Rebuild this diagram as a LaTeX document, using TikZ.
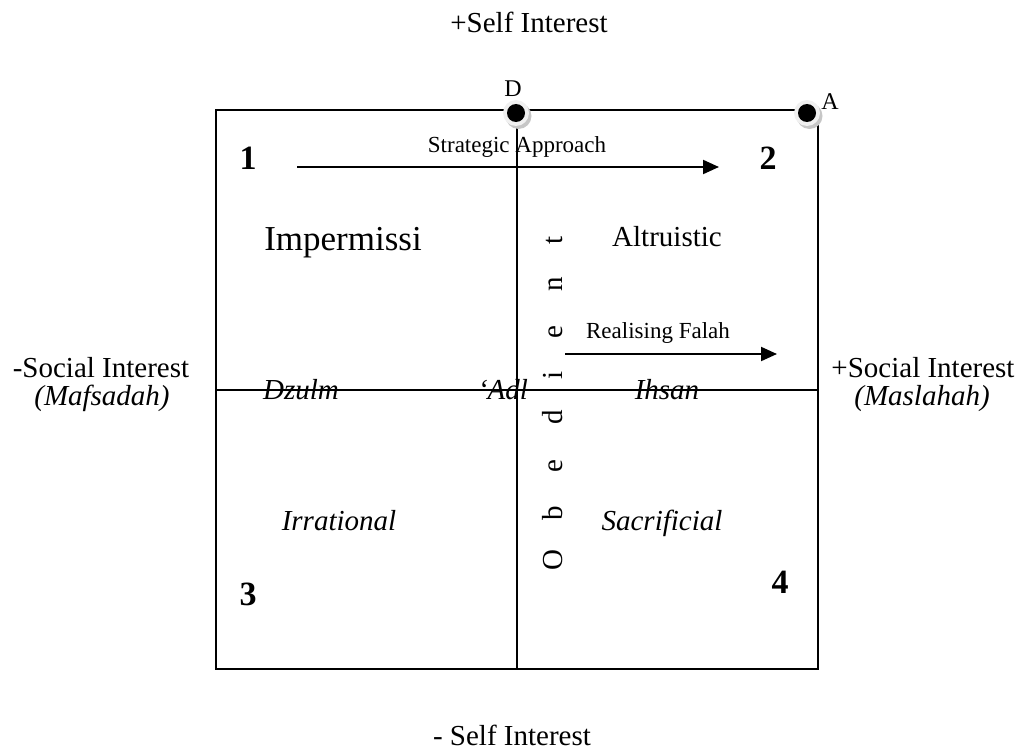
\documentclass[tikz,border=0pt]{standalone}
\usepackage{fontspec}
\setmainfont{Liberation Serif}
\usetikzlibrary{arrows.meta}
\begin{document}
\begin{tikzpicture}[x=1pt,y=-1pt,
  lbl/.style={anchor=base, inner sep=0pt, font=\fontsize{29}{34}\selectfont},
  ilbl/.style={anchor=base, inner sep=0pt, font=\fontsize{29}{34}\selectfont\itshape},
  smalllbl/.style={anchor=base, inner sep=0pt, font=\fontsize{23}{27}\selectfont},
  biglbl/.style={anchor=base, inner sep=0pt, font=\fontsize{35}{40}\selectfont},
  ptlbl/.style={anchor=base, inner sep=0pt, font=\fontsize{24}{28}\selectfont},
  num/.style={inner sep=0pt, font=\fontsize{34}{40}\selectfont\bfseries},
  letter/.style={anchor=base, inner sep=0pt, rotate=90, font=\fontsize{29}{34}\selectfont},
  frame/.style={line width=1.6pt},
  arr/.style={line width=2pt, -{Triangle[length=16pt,width=14pt]}},
  halo/.style={fill=gray!12},
  haloshadow/.style={fill=gray!45},
  dotnode/.style={circle, fill=black, minimum size=18pt, inner sep=0pt},
]
\useasboundingbox (0,0) rectangle (1021,752);

% frame
\coordinate (TL) at (216,110);
\coordinate (BR) at (818,669);
\coordinate (Vt) at (517,110);
\coordinate (Vb) at (517,669);
\coordinate (Hl) at (216,390);
\coordinate (Hr) at (818,390);
\draw[frame] (TL) rectangle (BR);
\draw[frame] (Vt) -- (Vb);
\draw[frame] (Hl) -- (Hr);

% axis labels
\node[lbl] (selfplus) at (529,33) {+Self Interest};
\node[lbl] (selfminus) at (512,745) {- Self Interest};
\node[lbl] (socminus) at (101,377) {-Social Interest};
\node[ilbl] (mafsadah) at (102,405) {(Mafsadah)};
\node[lbl] (socplus) at (923,377) {+Social Interest};
\node[ilbl] (maslahah) at (922,405) {(Maslahah)};

% quadrant numbers
\node[num] (q1) at (248,158) {1};
\node[num] (q2) at (768,158) {2};
\node[num] (q3) at (248,594) {3};
\node[num] (q4) at (780,582) {4};

% quadrant texts
\node[biglbl] (imperm) at (343,250) {Impermissi};
\node[lbl] (altru) at (667,246) {Altruistic};
\node[ilbl] (irrat) at (339,530) {Irrational};
\node[ilbl] (sacri) at (662,530) {Sacrificial};
\node[ilbl] (dzulm) at (301,399) {Dzulm};
\node[ilbl] (adl) at (503,399) {‘Adl};
\node[ilbl] (ihsan) at (667,399) {Ihsan};

% Obedient (vertical, spaced letters)
\node[letter] (ob1) at (562,560) {O};
\node[letter] (ob2) at (562,513) {b};
\node[letter] (ob3) at (562,466) {e};
\node[letter] (ob4) at (562,417) {d};
\node[letter] (ob5) at (562,375) {i};
\node[letter] (ob6) at (562,332) {e};
\node[letter] (ob7) at (562,284) {n};
\node[letter] (ob8) at (562,240) {t};

% arrows
\coordinate (sa1) at (297,167);
\coordinate (sa2) at (719,167);
\draw[arr] (sa1) -- (sa2);
\node[smalllbl] (strat) at (517,152) {Strategic Approach};
\coordinate (rf1) at (565,354);
\coordinate (rf2) at (777,354);
\draw[arr] (rf1) -- (rf2);
\node[smalllbl] (realis) at (658,338) {Realising Falah};

% points D and A
\fill[haloshadow] (518.5pt,-116pt) circle[radius=13pt];
\fill[halo] (516pt,-113pt) circle[radius=13pt];
\node[dotnode] (dotD) at (516,113) {};
\node[ptlbl] (labD) at (513,97) {D};
\fill[haloshadow] (809.5pt,-116pt) circle[radius=13pt];
\fill[halo] (807pt,-113pt) circle[radius=13pt];
\node[dotnode] (dotA) at (807,113) {};
\node[ptlbl] (labA) at (830,110) {A};
\end{tikzpicture}
\end{document}
